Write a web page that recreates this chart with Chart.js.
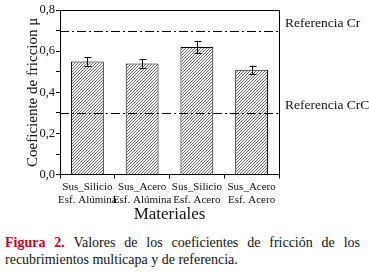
<!DOCTYPE html>
<html>
<head>
<meta charset="utf-8">
<script src="https://cdn.jsdelivr.net/npm/chart.js@4.4.0/dist/chart.umd.min.js"></script>
<style>
  html, body { margin: 0; padding: 0; background: #fff; }
  body { width: 369px; height: 272px; overflow: hidden; }
  .wrap { position: relative; width: 369px; height: 223px; }
  .caption {
    font-family: "Liberation Serif", serif;
    font-size: 14px;
    line-height: 17px;
    margin: 11px 9px 0 5px;
    color: #111;
    text-align: justify;
    text-align-last: left;
  }
  .caption b { color: #c8001e; }
  .l1 { text-align-last: justify; }
</style>
</head>
<body>
<div class="wrap"><canvas id="myChart" width="369" height="223"></canvas></div>
<div class="caption">
  <div class="l1"><b>Figura 2.</b> Valores de los coeficientes de fricción de los</div>
  <div>recubrimientos multicapa y de referencia.</div>
</div>
<script>
const materiales = [
    ['Sus_Silicio', 'Esf. Alúmina'],
    ['Sus_Acero', 'Esf. Alúmina'],
    ['Sus_Silicio', 'Esf. Acero'],
    ['Sus_Acero', 'Esf. Acero']
];
const friccion = [0.55, 0.54, 0.62, 0.51];
const errores = [0.02, 0.02, 0.03, 0.02];
const referencias = [
    { label: 'Referencia Cr', value: 0.70 },
    { label: 'Referencia CrC', value: 0.30 }
];
const yTicks = [0, 0.2, 0.4, 0.6, 0.8];

const serif = '"Liberation Serif", serif';

// diagonal hatch for the bars
function hatch() {
    const c = document.createElement('canvas');
    c.width = 3; c.height = 3;
    const g = c.getContext('2d');
    g.fillStyle = '#f2f2f2';
    g.fillRect(0, 0, 3, 3);
    g.fillStyle = '#707070';
    g.fillRect(2, 0, 1, 1);
    g.fillRect(1, 1, 1, 1);
    g.fillRect(0, 2, 1, 1);
    return g.createPattern(c, 'repeat');
}

const extras = {
    id: 'extras',
    afterDatasetsDraw(chart) {
        const { ctx, chartArea: a, scales } = chart;
        const y = scales.y;
        ctx.save();
        // box on top and right
        ctx.strokeStyle = '#000';
        ctx.lineWidth = 1;
        ctx.beginPath();
        ctx.moveTo(a.left, a.top + 0.5);
        ctx.lineTo(a.right + 0.5, a.top + 0.5);
        ctx.lineTo(a.right + 0.5, a.bottom);
        ctx.stroke();

        // error bars
        const meta = chart.getDatasetMeta(0);
        meta.data.forEach((bar, i) => {
            const x = Math.round(bar.x) + 0.5;
            const hi = y.getPixelForValue(friccion[i] + errores[i]);
            const lo = y.getPixelForValue(friccion[i] - errores[i]);
            ctx.beginPath();
            ctx.moveTo(x, hi); ctx.lineTo(x, lo);
            ctx.moveTo(x - 3, Math.round(hi) + 0.5); ctx.lineTo(x + 4, Math.round(hi) + 0.5);
            ctx.moveTo(x - 3, Math.round(lo) + 0.5); ctx.lineTo(x + 4, Math.round(lo) + 0.5);
            ctx.stroke();
        });

        // reference lines
        ctx.setLineDash([9, 3, 2, 3]);
        ctx.font = '13.5px ' + serif;
        ctx.fillStyle = '#111';
        ctx.textBaseline = 'middle';
        referencias.forEach(r => {
            const py = Math.round(y.getPixelForValue(r.value)) + 0.5;
            ctx.beginPath();
            ctx.moveTo(a.left, py);
            ctx.lineTo(a.right, py);
            ctx.stroke();
            ctx.fillText(r.label, a.right + 6, py - 8);
        });
        ctx.restore();
    }
};

function draw() {
    new Chart(document.getElementById('myChart'), {
        type: 'bar',
        data: {
            labels: materiales,
            datasets: [{
                data: friccion,
                backgroundColor: hatch(),
                borderColor: '#000',
                borderWidth: 1,
                borderSkipped: 'bottom',
                categoryPercentage: 1,
                barPercentage: 0.6
            }]
        },
        options: {
            responsive: false,
            animation: false,
            devicePixelRatio: 1,
            layout: { padding: { left: 24, right: 90, top: 10, bottom: 0 } },
            plugins: {
                legend: { display: false },
                tooltip: { enabled: false }
            },
            scales: {
                y: {
                    min: 0,
                    max: 0.8,
                    afterBuildTicks(scale) {
                        scale.ticks = [];
                        for (let v = 0; v <= 8; v++) scale.ticks.push({ value: v / 10 });
                    },
                    ticks: {
                        color: '#111',
                        font: { family: serif, size: 12.5 },
                        padding: 1,
                        callback: v => yTicks.some(t => Math.abs(t - v) < 1e-6) ? v.toFixed(1).replace('.', ',') : ''
                    },
                    grid: {
                        drawOnChartArea: false,
                        tickLength: 4,
                        tickColor: '#000'
                    },
                    border: { display: true, color: '#000', width: 1 },
                    title: {
                        display: true,
                        text: 'Coeficiente de friccion μ',
                        color: '#111',
                        font: { family: serif, size: 15 },
                        padding: 0
                    },
                    afterFit(scale) { scale.width = 36; }
                },
                x: {
                    ticks: {
                        color: '#111',
                        font: { family: serif, size: 11, lineHeight: 1.2 },
                        padding: 2,
                        maxRotation: 0,
                        autoSkip: false
                    },
                    grid: {
                        drawOnChartArea: false,
                        offset: true,
                        tickLength: 4,
                        tickColor: '#000'
                    },
                    border: { display: true, color: '#000', width: 1 },
                    title: {
                        display: true,
                        text: 'Materiales',
                        color: '#111',
                        font: { family: serif, size: 17, lineHeight: 1 },
                        padding: { top: -3, bottom: 0 }
                    }
                }
            }
        },
        plugins: [extras]
    });
}

Promise.all([
    document.fonts.load('13px "Liberation Serif"'),
    document.fonts.load('bold 14px "Liberation Serif"')
]).then(draw, draw);
</script>
</body>
</html>
